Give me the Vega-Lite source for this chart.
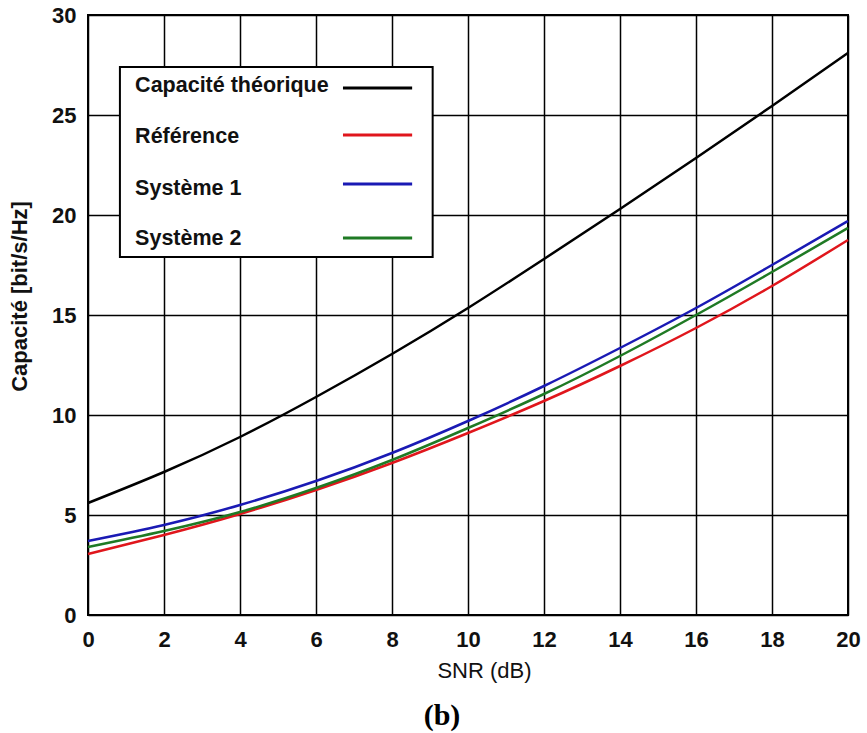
{
  "$schema": "https://vega.github.io/schema/vega-lite/v6.json",
  "width": 760,
  "height": 600,
  "autosize": "none",
  "padding": {"left": 88, "top": 15, "right": 19, "bottom": 118},
  "background": "white",
  "config": {
    "view": {"stroke": "black", "strokeWidth": 2},
    "axis": {
      "labelFont": "Liberation Sans",
      "labelFontWeight": "bold",
      "labelFontSize": 22,
      "labelColor": "#111111",
      "labelFlush": false,
      "titleFont": "Liberation Sans",
      "titleFontSize": 22,
      "titleColor": "#111111",
      "domain": false,
      "ticks": false,
      "gridColor": "black",
      "gridOpacity": 1,
      "gridWidth": 1.5
    }
  },
  "title": {
    "text": "(b)",
    "orient": "bottom",
    "font": "Liberation Serif",
    "fontSize": 30,
    "fontWeight": "bold",
    "color": "black",
    "offset": 20,
    "dx": -26
  },
  "datasets": {
    "curves": [
      {"snr": 0, "cap": 5.6, "serie": "Capacité théorique"},
      {"snr": 2, "cap": 7.15, "serie": "Capacité théorique"},
      {"snr": 4, "cap": 8.9, "serie": "Capacité théorique"},
      {"snr": 6, "cap": 10.9, "serie": "Capacité théorique"},
      {"snr": 8, "cap": 13.05, "serie": "Capacité théorique"},
      {"snr": 10, "cap": 15.35, "serie": "Capacité théorique"},
      {"snr": 12, "cap": 17.8, "serie": "Capacité théorique"},
      {"snr": 14, "cap": 20.3, "serie": "Capacité théorique"},
      {"snr": 16, "cap": 22.85, "serie": "Capacité théorique"},
      {"snr": 18, "cap": 25.45, "serie": "Capacité théorique"},
      {"snr": 20, "cap": 28.1, "serie": "Capacité théorique"},
      {"snr": 0, "cap": 3.05, "serie": "Référence"},
      {"snr": 2, "cap": 4.0, "serie": "Référence"},
      {"snr": 4, "cap": 5.05, "serie": "Référence"},
      {"snr": 6, "cap": 6.25, "serie": "Référence"},
      {"snr": 8, "cap": 7.6, "serie": "Référence"},
      {"snr": 10, "cap": 9.1, "serie": "Référence"},
      {"snr": 12, "cap": 10.7, "serie": "Référence"},
      {"snr": 14, "cap": 12.45, "serie": "Référence"},
      {"snr": 16, "cap": 14.35, "serie": "Référence"},
      {"snr": 18, "cap": 16.45, "serie": "Référence"},
      {"snr": 20, "cap": 18.75, "serie": "Référence"},
      {"snr": 0, "cap": 3.4, "serie": "Système 2"},
      {"snr": 2, "cap": 4.2, "serie": "Système 2"},
      {"snr": 4, "cap": 5.15, "serie": "Système 2"},
      {"snr": 6, "cap": 6.35, "serie": "Système 2"},
      {"snr": 8, "cap": 7.75, "serie": "Système 2"},
      {"snr": 10, "cap": 9.35, "serie": "Système 2"},
      {"snr": 12, "cap": 11.05, "serie": "Système 2"},
      {"snr": 14, "cap": 12.95, "serie": "Système 2"},
      {"snr": 16, "cap": 15.0, "serie": "Système 2"},
      {"snr": 18, "cap": 17.15, "serie": "Système 2"},
      {"snr": 20, "cap": 19.35, "serie": "Système 2"},
      {"snr": 0, "cap": 3.7, "serie": "Système 1"},
      {"snr": 2, "cap": 4.5, "serie": "Système 1"},
      {"snr": 4, "cap": 5.5, "serie": "Système 1"},
      {"snr": 6, "cap": 6.7, "serie": "Système 1"},
      {"snr": 8, "cap": 8.1, "serie": "Système 1"},
      {"snr": 10, "cap": 9.7, "serie": "Système 1"},
      {"snr": 12, "cap": 11.45, "serie": "Système 1"},
      {"snr": 14, "cap": 13.35, "serie": "Système 1"},
      {"snr": 16, "cap": 15.35, "serie": "Système 1"},
      {"snr": 18, "cap": 17.5, "serie": "Système 1"},
      {"snr": 20, "cap": 19.7, "serie": "Système 1"}
    ],
    "legendbox": [
      {"x1": 0.84, "x2": 9.07, "y1": 27.4, "y2": 17.9}
    ],
    "legend": [
      {"serie": "Capacité théorique", "tx": 1.24, "ty": 26.45, "sx1": 6.71, "sx2": 8.53, "sy": 26.35},
      {"serie": "Référence", "tx": 1.24, "ty": 23.9, "sx1": 6.71, "sx2": 8.53, "sy": 24.0},
      {"serie": "Système 1", "tx": 1.24, "ty": 21.3, "sx1": 6.71, "sx2": 8.53, "sy": 21.55},
      {"serie": "Système 2", "tx": 1.24, "ty": 18.8, "sx1": 6.71, "sx2": 8.53, "sy": 18.85}
    ]
  },
  "layer": [
    {
      "data": {"name": "curves"},
      "mark": {"type": "line", "interpolate": "natural", "strokeWidth": 2.5},
      "encoding": {
        "x": {
          "field": "snr",
          "type": "quantitative",
          "scale": {"domain": [0, 20], "nice": false},
          "axis": {
            "title": "SNR (dB)",
            "titleFontWeight": "normal",
            "values": [0, 2, 4, 6, 8, 10, 12, 14, 16, 18, 20],
            "labelPadding": 14,
            "titlePadding": 10,
            "titleX": 396
          }
        },
        "y": {
          "field": "cap",
          "type": "quantitative",
          "scale": {"domain": [0, 30], "nice": false},
          "axis": {
            "title": "Capacité [bit/s/Hz]",
            "titleFontWeight": "bold",
            "values": [0, 5, 10, 15, 20, 25, 30],
            "labelPadding": 12,
            "titlePadding": 20,
            "titleY": 281
          }
        },
        "color": {
          "field": "serie",
          "type": "nominal",
          "scale": {
            "domain": ["Capacité théorique", "Référence", "Système 1", "Système 2"],
            "range": ["#000000", "#e0161c", "#1a1ab4", "#1f7a24"]
          },
          "legend": null
        }
      }
    },
    {
      "data": {"name": "legendbox"},
      "mark": {"type": "rect", "fill": "white", "stroke": "black", "strokeWidth": 2},
      "encoding": {
        "x": {"field": "x1", "type": "quantitative"},
        "x2": {"field": "x2"},
        "y": {"field": "y1", "type": "quantitative"},
        "y2": {"field": "y2"}
      }
    },
    {
      "data": {"name": "legend"},
      "mark": {"type": "text", "align": "left", "baseline": "middle", "font": "Liberation Sans", "fontWeight": "bold", "fontSize": 21.5, "color": "#111111"},
      "encoding": {
        "x": {"field": "tx", "type": "quantitative"},
        "y": {"field": "ty", "type": "quantitative"},
        "text": {"field": "serie"}
      }
    },
    {
      "data": {"name": "legend"},
      "mark": {"type": "rule", "strokeWidth": 3},
      "encoding": {
        "x": {"field": "sx1", "type": "quantitative"},
        "x2": {"field": "sx2"},
        "y": {"field": "sy", "type": "quantitative"},
        "color": {"field": "serie", "type": "nominal", "legend": null}
      }
    }
  ]
}
